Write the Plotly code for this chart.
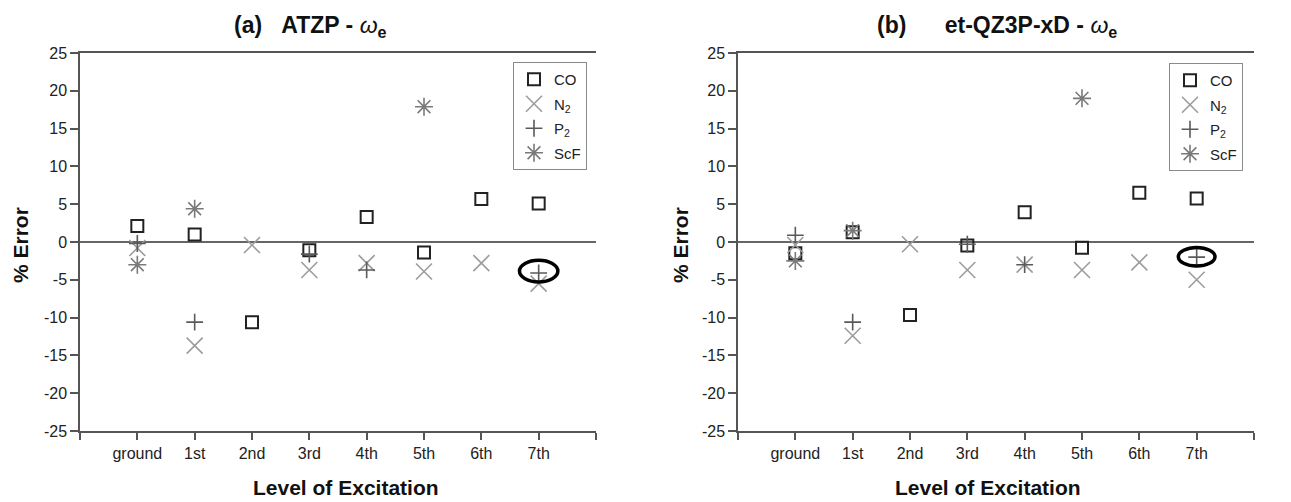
import plotly.graph_objects as go

# Excitation levels (x positions 1..8; 0 and 9 are the empty frame ends)
levels = ["ground", "1st", "2nd", "3rd", "4th", "5th", "6th", "7th"]
level_pos = [1, 2, 3, 4, 5, 6, 7, 8]

# y tick values and their labels (plain hyphen for negatives)
y_ticks = [-25, -20, -15, -10, -5, 0, 5, 10, 15, 20, 25]
y_tick_text = ["-25", "-20", "-15", "-10", "-5", "0", "5", "10", "15", "20", "25"]

# % error in omega_e, panel (a) ATZP
atzp_co = [2.1, 1.0, -10.6, -1.1, 3.3, -1.4, 5.7, 5.1]
atzp_n2 = [-0.8, -13.7, -0.4, -3.7, -2.8, -3.9, -2.8, -5.5]
atzp_p2 = [-0.2, -10.6, None, -1.6, -3.7, None, None, -4.1]
atzp_scf = [-3.0, 4.4, None, None, None, 17.9, None, None]

# % error in omega_e, panel (b) et-QZ3P-xD
qz3p_co = [-1.5, 1.3, -9.65, -0.45, 3.95, -0.75, 6.5, 5.75]
qz3p_n2 = [-0.4, -12.4, -0.3, -3.7, -3.0, -3.7, -2.7, -5.0]
qz3p_p2 = [0.9, -10.6, None, -0.3, -3.0, None, None, -2.0]
qz3p_scf = [-2.5, 1.5, None, None, None, 19.0, None, None]

# Highlighted point (7th level, P2) in each panel
ring_a = {"x": 8, "y": -3.85, "w": 0.67, "h": 2.85}
ring_b = {"x": 8, "y": -1.95, "w": 0.64, "h": 2.45}

series_style = [
    ("CO", "square-open", 12, "#222222", 2.0),
    ("N<sub>2</sub>", "x-thin-open", 16, "#9c9c9c", 1.6),
    ("P<sub>2</sub>", "cross-thin-open", 12, "#5a5a5a", 1.6),
    ("ScF", "asterisk-open", 15, "#7a7a7a", 1.6),
]

FONT = "Liberation Sans, Arial, sans-serif"
AXC = "#555555"
W, H = 1291, 502
ML, MR, MT, MB = 80, 37, 53, 71
PW = W - ML - MR
PH = H - MT - MB


def px_x(px):
    return (px - ML) / PW


def px_y(py):
    return 1 - (py - MT) / PH


fig = go.Figure()

panels = [
    ("x", "y", "legend", [atzp_co, atzp_n2, atzp_p2, atzp_scf], "a"),
    ("x2", "y2", "legend2", [qz3p_co, qz3p_n2, qz3p_p2, qz3p_scf], "b"),
]
for xa, ya, leg, data, tag in panels:
    for (name, sym, size, color, lw), vals in zip(series_style, data):
        fig.add_trace(go.Scatter(
            x=level_pos, y=vals, mode="markers", name=name,
            xaxis=xa, yaxis=ya, legend=leg, legendgroup=tag + name,
            marker=dict(symbol=sym, size=size, color=color,
                        line=dict(width=lw, color=color)),
        ))

for ring, xr, yr in [(ring_a, "x", "y"), (ring_b, "x2", "y2")]:
    fig.add_shape(type="circle", xref=xr, yref=yr,
                  x0=ring["x"] - ring["w"] / 2, x1=ring["x"] + ring["w"] / 2,
                  y0=ring["y"] - ring["h"] / 2, y1=ring["y"] + ring["h"] / 2,
                  line=dict(color="black", width=3.5))

tickfont = dict(family=FONT, size=16, color="#222222")
xcommon = dict(range=[0, 9], tickmode="array", tickvals=list(range(10)),
               ticktext=[""] + levels + [""], showline=True, mirror=True,
               linecolor=AXC, linewidth=1.5, ticks="outside", ticklen=7,
               tickwidth=1.5, tickcolor=AXC, showgrid=False, zeroline=False,
               tickfont=tickfont, fixedrange=True)
ycommon = dict(range=[-25, 25], tickmode="array", tickvals=y_ticks,
               ticktext=y_tick_text,
               showline=True, linecolor=AXC, linewidth=1.5, ticks="outside",
               ticklen=8, tickwidth=1.5, tickcolor=AXC, showgrid=False,
               tickfont=tickfont, fixedrange=True)

left_dom = [0, px_x(596)]
right_dom = [px_x(738), 1]

legend_common = dict(bgcolor="white", bordercolor="#8a8a8a", borderwidth=1,
                     font=dict(family=FONT, size=15, color="#222222"),
                     xanchor="left", yanchor="top", tracegroupgap=2,
                     traceorder="grouped")

fig.update_layout(
    width=W, height=H, autosize=False,
    margin=dict(l=ML, r=MR, t=MT, b=MB),
    paper_bgcolor="white", plot_bgcolor="white",
    showlegend=True,
    xaxis=dict(domain=left_dom, anchor="y", **xcommon),
    xaxis2=dict(domain=right_dom, anchor="y2", **xcommon),
    yaxis=dict(domain=[0, 1], anchor="x", zeroline=True,
               zerolinecolor="#666666", zerolinewidth=1.5, **ycommon),
    yaxis2=dict(domain=[0, 1], anchor="x2", zeroline=True,
                zerolinecolor="#666666", zerolinewidth=1.5, **ycommon),
    yaxis3=dict(overlaying="y", anchor="x", side="right", zeroline=False,
                **ycommon),
    yaxis4=dict(overlaying="y2", anchor="x2", side="right", zeroline=False,
                **ycommon),
    legend=dict(x=px_x(513), y=px_y(62), **legend_common),
    legend2=dict(x=px_x(1169), y=px_y(63), **legend_common),
)

NB = "\u00a0"
ann = [
    (px_x(310), px_y(27), "<b>(a)" + NB * 3 + "ATZP - </b><i>ω</i><sub><b>e</b></sub>", 0, 23),
    (px_x(997), px_y(27), "<b>(b)" + NB * 6 + "et-QZ3P-xD - </b><i>ω</i><sub><b>e</b></sub>", 0, 23),
    (px_x(20), px_y(245), "<b>% Error</b>", -90, 21),
    (px_x(680), px_y(245), "<b>% Error</b>", -90, 21),
    (px_x(346), px_y(488), "<b>Level of Excitation</b>", 0, 21),
    (px_x(988), px_y(488), "<b>Level of Excitation</b>", 0, 21),
]
for x, y, text, ang, fs in ann:
    fig.add_annotation(x=x, y=y, xref="paper", yref="paper", text=text,
                       showarrow=False, textangle=ang,
                       xanchor="center", yanchor="middle",
                       font=dict(family=FONT, size=fs, color="#111111"))

fig.write_html("out.html")
